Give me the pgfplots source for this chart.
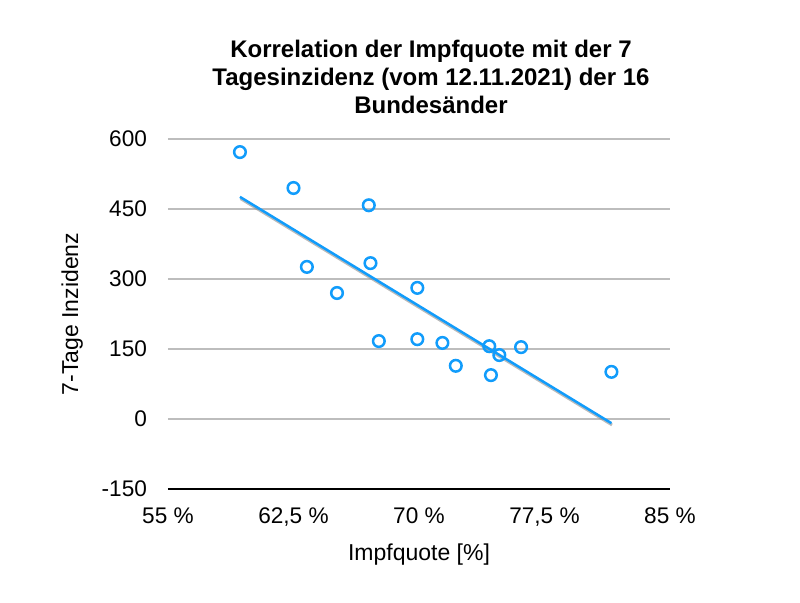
\documentclass[border=0pt]{standalone}
\usepackage{pgfplots}
\pgfplotsset{compat=1.18}
\usepackage{fontspec}
\setmainfont{Liberation Sans}
\definecolor{cBlue}{HTML}{119CFB}
\definecolor{cGrid}{HTML}{BDBDBD}
\begin{document}
\begin{tikzpicture}
\path[use as bounding box] (-84pt,-57pt) rectangle (316pt,244.5pt);
\begin{axis}[
  at={(0,0)}, anchor=south west,
  scale only axis, width=251pt, height=175pt,
  xmin=55, xmax=85, ymin=-150, ymax=600,
  axis line style={draw=none},
  xtick={55,62.5,70,77.5,85},
  xticklabels={55 \%, {62,5 \%}, 70 \%, {77,5 \%}, 85 \%},
  ytick={0,150,300,450,600},
  extra y ticks={-150}, extra y tick labels={-150},
  extra y tick style={grid style={black, line width=0.7pt}},
  tick style={draw=none},
  ymajorgrids, grid style={cGrid, line width=0.6pt},
  /pgf/number format/assume math mode=true,
  tick label style={font=\fontsize{11.3}{13}\selectfont},
  xticklabel style={yshift=-6pt},
  yticklabel style={xshift=-7pt},
  xlabel={Impfquote [\%]}, ylabel={7-Tage Inzidenz},
  label style={font=\fontsize{11.5}{13}\selectfont},
  xlabel style={yshift=-1.5pt},
  ylabel style={yshift=2.5pt},
  title={\textbf{Korrelation der Impfquote mit der 7}\\\textbf{Tagesinzidenz (vom 12.11.2021) der 16}\\\textbf{Bundesänder}},
  title style={align=center, font=\fontsize{12}{14}\selectfont, yshift=3pt, xshift=6pt},
  clip=false,
]
\addplot[draw=black!45, opacity=0.6, line width=1.4pt, yshift=-0.9pt, xshift=0.3pt] coordinates {(59.3,476) (81.5,-9)};
\addplot[draw=cBlue, line width=1.25pt] coordinates {(59.3,476) (81.5,-9)};
\addplot[only marks, mark=o, mark size=2.9pt, mark options={draw=cBlue, line width=1.25pt, fill=white}] coordinates {
  (59.3,572) (62.5,495) (63.3,326) (65.1,270) (67.0,458) (67.1,334)
  (67.6,167) (69.9,281) (69.9,171) (71.4,163) (72.2,114) (74.2,156)
  (74.3,94) (74.8,137) (76.1,154) (81.5,101)};
\end{axis}
\end{tikzpicture}
\end{document}
